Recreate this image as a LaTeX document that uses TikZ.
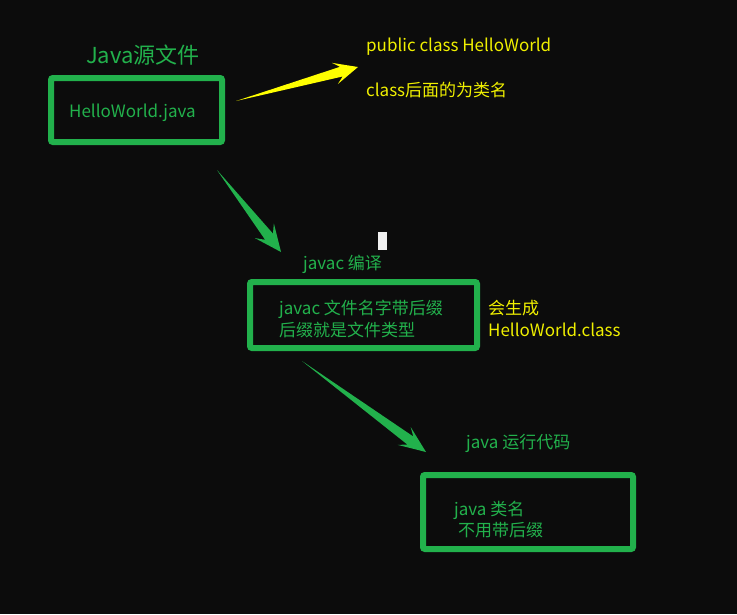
\documentclass[tikz,border=0pt]{standalone}
\usepackage{fontspec}
\setmainfont{Noto Sans CJK SC}
\usetikzlibrary{calc}
\definecolor{bg}{HTML}{0C0C0C}
\definecolor{pgreen}{HTML}{22B14C}
\definecolor{pyellow}{HTML}{FFFF00}
\definecolor{tyellow}{HTML}{F0F000}
\tikzset{
  box/.style={draw=pgreen, line width=6pt, rounded corners=2pt, minimum width=#1, inner sep=0pt},
  gtext/.style={text=pgreen, anchor=base west, inner sep=0pt, font=\fontsize{17pt}{22pt}\selectfont},
  ytext/.style={text=tyellow, anchor=base west, inner sep=0pt, font=\fontsize{17pt}{22pt}\selectfont},
  title/.style={text=pgreen, anchor=base west, inner sep=0pt, font=\fontsize{22pt}{26pt}\selectfont}
}
% tapered arrow: #1 tail, #2 tip, #3 colour, #4 head length, #5 head half width
\newcommand{\taparrow}[5]{%
  \fill[#3] (#1)
    -- ($($(#2)!#4*0.72!(#1)$)!5pt!90:(#2)$)
    -- ($($(#2)!#4!(#1)$)!#5!90:(#2)$)
    -- (#2)
    -- ($($(#2)!#4!(#1)$)!#5!-90:(#2)$)
    -- ($($(#2)!#4*0.72!(#1)$)!5pt!-90:(#2)$)
    -- cycle;}
\begin{document}
\begin{tikzpicture}[x=1pt,y=-1pt]
\fill[bg] (0,0) rectangle (737,614);
\useasboundingbox (0,0) rectangle (737,614);

% boxes
\node[box=171pt, minimum height=64pt] (src) at (136.5,110) {};
\node[box=227pt, minimum height=66pt] (cmp) at (363.5,315) {};
\node[box=210pt, minimum height=74pt] (run) at (528,512) {};

% texts
\node[title] (t1) at (86,63) {Java源文件};
\node[gtext] (t2) at (69,117) {HelloWorld.java};
\node[ytext] (y1) at (366,51) {public class HelloWorld};
\node[ytext] (y2) at (366,96) {class后面的为类名};
\node[gtext] (c0) at (303,269) {javac 编译};
\node[gtext] (c1) at (279,314) {javac 文件名字带后缀};
\node[gtext] (c2) at (279,336) {后缀就是文件类型};
\node[ytext] (y3) at (488,314) {会生成};
\node[ytext] (y4) at (488,336) {HelloWorld.class};
\node[gtext] (r0) at (466,448) {java 运行代码};
\node[gtext] (r1) at (454,515) {java 类名};
\node[gtext] (r2) at (458,536) {不用带后缀};

% cursor mark
\fill[white!94!black] (378,232) rectangle (387,250);

% arrows
\coordinate (a1s) at (236,101);
\coordinate (a1e) at (358,67);
\coordinate (a2s) at (217,170);
\coordinate (a2e) at (281,252);
\coordinate (a3s) at (302,361);
\coordinate (a3e) at (426,452);
\taparrow{a1s}{a1e}{pyellow}{24pt}{11pt}
\taparrow{a2s}{a2e}{pgreen}{27pt}{12pt}
\taparrow{a3s}{a3e}{pgreen}{27pt}{11pt}
\end{tikzpicture}
\end{document}
